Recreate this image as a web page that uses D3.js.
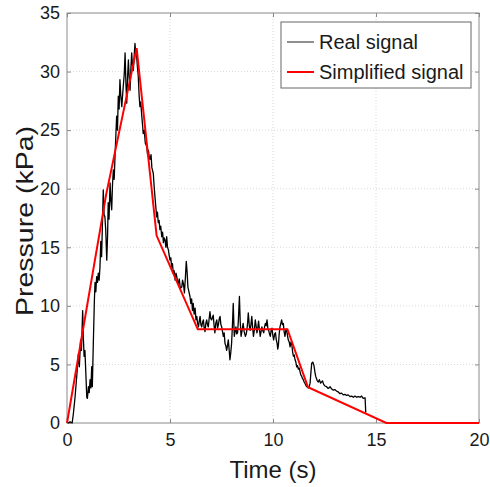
<!DOCTYPE html>
<html>
<head>
<meta charset="utf-8">
<script src="https://cdn.jsdelivr.net/npm/d3@7"></script>
<style>
  html, body { margin: 0; padding: 0; background: #fff; }
  svg { display: block; font-family: "Liberation Sans", Arial, Helvetica, sans-serif; }
</style>
</head>
<body>
<svg id="chart" width="490" height="487"></svg>
<script>
// Measured pressure trace (time in s, pressure in kPa)
const realTime = [
  0.05, 0.15, 0.25, 0.31, 0.39, 0.45, 0.50, 0.55, 0.60, 0.66, 0.70, 0.76, 0.80, 0.83, 0.87, 0.92, 0.96, 0.99,
  1.04, 1.08, 1.12, 1.16, 1.20, 1.23, 1.28, 1.33, 1.36, 1.40, 1.44, 1.48, 1.52, 1.56, 1.60, 1.64, 1.68, 1.72,
  1.76, 1.80, 1.84, 1.88, 1.93, 1.97, 2.00, 2.04, 2.09, 2.13, 2.17, 2.21, 2.25, 2.29, 2.33, 2.37, 2.41, 2.45,
  2.49, 2.53, 2.57, 2.61, 2.66, 2.70, 2.73, 2.78, 2.82, 2.86, 2.90, 2.94, 2.98, 3.02, 3.06, 3.10, 3.14, 3.18,
  3.22, 3.26, 3.30, 3.34, 3.38, 3.42, 3.46, 3.50, 3.54, 3.58, 3.63, 3.67, 3.70, 3.75, 3.80, 3.87, 3.92, 3.95,
  4.00, 4.03, 4.08, 4.12, 4.19, 4.23, 4.27, 4.31, 4.35, 4.39, 4.43, 4.47, 4.51, 4.55, 4.60, 4.64, 4.68, 4.72,
  4.76, 4.80, 4.84, 4.88, 4.92, 4.96, 5.00, 5.04, 5.08, 5.12, 5.16, 5.20, 5.25, 5.29, 5.33, 5.37, 5.40, 5.45,
  5.50, 5.57, 5.61, 5.65, 5.70, 5.75, 5.79, 5.83, 5.87, 5.92, 5.97, 6.01, 6.05, 6.09, 6.13, 6.17, 6.22, 6.26,
  6.30, 6.34, 6.38, 6.42, 6.46, 6.50, 6.54, 6.58, 6.62, 6.66, 6.70, 6.74, 6.78, 6.82, 6.86, 6.90, 6.94, 6.98,
  7.02, 7.06, 7.10, 7.14, 7.18, 7.22, 7.27, 7.31, 7.35, 7.39, 7.43, 7.47, 7.51, 7.55, 7.59, 7.63, 7.67, 7.71,
  7.75, 7.79, 7.83, 7.87, 7.91, 7.95, 7.99, 8.03, 8.07, 8.10, 8.12, 8.16, 8.20, 8.24, 8.28, 8.32, 8.37, 8.41,
  8.45, 8.50, 8.55, 8.60, 8.66, 8.70, 8.73, 8.77, 8.80, 8.85, 8.89, 8.93, 8.97, 9.01, 9.05, 9.10, 9.14, 9.18,
  9.22, 9.26, 9.30, 9.34, 9.38, 9.42, 9.46, 9.50, 9.55, 9.59, 9.63, 9.67, 9.71, 9.75, 9.79, 9.83, 9.87, 9.91,
  9.95, 9.99, 10.03, 10.08, 10.12, 10.16, 10.20, 10.23, 10.26, 10.30, 10.34, 10.38, 10.42, 10.46, 10.50, 10.54, 10.58, 10.62,
  10.66, 10.70, 10.74, 10.79, 10.83, 10.87, 10.91, 10.95, 10.99, 11.03, 11.07, 11.11, 11.15, 11.19, 11.23, 11.27, 11.31, 11.35,
  11.39, 11.43, 11.47, 11.51, 11.55, 11.60, 11.64, 11.68, 11.72, 11.76, 11.80, 11.84, 11.88, 11.93, 11.99, 12.03, 12.07, 12.11,
  12.15, 12.20, 12.25, 12.31, 12.36, 12.40, 12.46, 12.52, 12.60, 12.68, 12.72, 12.77, 12.85, 12.93, 13.00, 13.10, 13.17, 13.25,
  13.33, 13.41, 13.49, 13.57, 13.65, 13.74, 13.82, 13.90, 13.98, 14.06, 14.14, 14.23, 14.30, 14.38, 14.47, 14.50, 14.50
];
const realPressure = [
  0.0, 0.1, 0.0, 0.8, 2.2, 3.5, 4.6, 5.9, 4.8, 7.1, 6.2, 9.6, 7.0, 5.7, 6.2, 4.0, 2.2, 2.1,
  3.1, 2.6, 3.7, 3.0, 4.8, 3.1, 7.0, 10.5, 12.0, 11.2, 12.5, 12.0, 12.8, 12.2, 13.3, 15.5, 14.2, 17.0,
  19.9, 17.8, 17.6, 16.5, 13.9, 16.0, 18.8, 17.4, 20.5, 19.0, 18.2, 20.4, 21.6, 20.8, 22.7, 24.5, 26.2, 25.0,
  27.9, 26.8, 29.3, 28.0, 27.0, 28.0, 28.7, 29.8, 31.6, 29.0, 27.3, 29.5, 31.0, 29.5, 28.4, 30.2, 31.6, 30.5,
  30.1, 31.3, 32.4, 31.5, 31.3, 30.4, 29.6, 28.0, 27.0, 27.4, 26.2, 25.4, 24.7, 25.0, 23.9, 23.6, 22.8, 23.3,
  22.6, 22.5, 22.9, 21.8, 21.3, 20.2, 19.3, 18.5, 17.6, 18.0, 17.1, 17.3, 16.5, 16.8, 15.9, 16.3, 15.4, 15.8,
  15.6, 15.0, 15.9, 15.0, 14.8, 14.3, 13.9, 14.1, 13.3, 13.6, 12.8, 13.0, 12.2, 12.8, 12.5, 12.0, 11.9, 12.3,
  11.5, 11.6, 12.2, 11.9, 11.1, 12.5, 13.8, 12.9, 11.6, 11.2, 10.8, 10.2, 10.6, 9.6, 10.2, 9.3, 9.8, 8.8,
  9.1, 8.5, 8.2, 8.7, 9.1, 8.4, 8.2, 8.6, 8.8, 8.1, 7.8, 8.5, 8.8, 8.4, 8.2, 8.9, 9.5, 8.9,
  8.8, 9.0, 9.2, 8.3, 7.7, 8.5, 8.8, 8.1, 8.4, 8.9, 9.1, 8.4, 8.2, 7.8, 7.4, 7.7, 6.8, 6.6,
  6.2, 6.6, 7.1, 6.3, 5.4, 6.0, 6.8, 8.3, 10.2, 8.5, 7.4, 7.8, 8.2, 7.6, 7.7, 8.8, 10.8, 8.6,
  7.4, 7.9, 8.5, 7.8, 7.4, 7.6, 7.9, 8.6, 9.4, 8.3, 7.9, 8.4, 9.1, 8.2, 7.4, 8.0, 8.8, 8.3,
  7.7, 8.1, 8.7, 8.0, 7.4, 7.8, 8.2, 7.9, 7.7, 8.2, 8.5, 8.3, 8.8, 8.1, 7.9, 7.6, 7.4, 7.9,
  8.1, 7.5, 7.1, 7.6, 7.7, 7.1, 6.8, 6.3, 6.6, 7.6, 8.2, 8.5, 8.8, 8.4, 8.5, 7.8, 7.4, 7.9,
  8.0, 7.5, 7.1, 6.9, 6.5, 6.9, 6.8, 6.1, 5.7, 5.8, 5.4, 5.2, 4.8, 4.9, 4.6, 4.7, 4.4, 4.1,
  4.0, 3.8, 3.7, 3.5, 3.4, 3.2, 3.1, 3.05, 3.0, 3.1, 3.4, 4.3, 5.1, 5.2, 4.9, 4.4, 4.0, 3.8,
  3.6, 3.5, 3.7, 3.4, 3.5, 3.6, 3.3, 3.16, 3.1, 2.95, 3.0, 3.1, 2.9, 2.8, 2.85, 2.7, 2.65, 2.5,
  2.55, 2.4, 2.45, 2.35, 2.4, 2.25, 2.3, 2.2, 2.3, 2.2, 2.25, 2.2, 2.3, 2.1, 2.15, 1.0, 0.9
];

// Piecewise-linear simplification of the trace
const simpleTime = [0, 1.9, 3.38, 4.35, 6.35, 10.7, 11.7, 15.5, 20];
const simplePressure = [0, 19.5, 32, 16, 8, 8, 3.05, 0, 0];

// Axis ticks and labels
const xTicks = [0, 5, 10, 15, 20];
const yTicks = [0, 5, 10, 15, 20, 25, 30, 35];
const xTitle = "Time (s)";
const yTitle = "Pressure (kPa)";
const legendLabels = ["Real signal", "Simplified signal"];

const svg = d3.select("#chart");
const plotLeft = 67, plotRight = 479, plotTop = 13, plotBottom = 423;

const x = d3.scaleLinear().domain([0, 20]).range([plotLeft, plotRight]);
const y = d3.scaleLinear().domain([0, 35]).range([plotBottom, plotTop]);

const frameColor = "#8a8a8a";
const textColor = "#1a1a1a";

// Dotted grid
const grid = svg.append("g");
grid.selectAll("line.gx").data(xTicks.slice(1, -1)).join("line")
  .attr("x1", d => x(d)).attr("x2", d => x(d))
  .attr("y1", plotTop).attr("y2", plotBottom)
  .attr("stroke", "#d9d9d9").attr("stroke-width", 1).attr("stroke-dasharray", "1,2");
grid.selectAll("line.gy").data(yTicks.slice(1, -1)).join("line")
  .attr("x1", plotLeft).attr("x2", plotRight)
  .attr("y1", d => y(d)).attr("y2", d => y(d))
  .attr("stroke", "#d9d9d9").attr("stroke-width", 1).attr("stroke-dasharray", "1,2");

// Axes with inward ticks on all four sides
function styleAxis(g) {
  g.select(".domain").remove();
  g.selectAll(".tick line").attr("stroke", frameColor);
  g.selectAll(".tick text").attr("fill", textColor)
    .style("font-size", "18px")
    .style("font-family", '"Liberation Sans", Arial, sans-serif');
}
svg.append("g").attr("transform", `translate(0,${plotBottom})`)
  .call(d3.axisBottom(x).tickValues(xTicks).tickSize(-4).tickPadding(10).tickFormat(d3.format("d")))
  .call(styleAxis);
svg.append("g").attr("transform", `translate(${plotLeft},0)`)
  .call(d3.axisLeft(y).tickValues(yTicks).tickSize(-4).tickPadding(7).tickFormat(d3.format("d")))
  .call(styleAxis);
svg.append("g").attr("transform", `translate(0,${plotTop})`)
  .call(d3.axisTop(x).tickValues(xTicks).tickSize(-4).tickFormat(""))
  .call(styleAxis);
svg.append("g").attr("transform", `translate(${plotRight},0)`)
  .call(d3.axisRight(y).tickValues(yTicks).tickSize(-4).tickFormat(""))
  .call(styleAxis);

// Frame
svg.append("rect")
  .attr("x", plotLeft).attr("y", plotTop)
  .attr("width", plotRight - plotLeft).attr("height", plotBottom - plotTop)
  .attr("fill", "none").attr("stroke", frameColor).attr("stroke-width", 1);

// Series
const line = d3.line().x(d => x(d[0])).y(d => y(d[1]));
const realData = realTime.map((t, i) => [t, realPressure[i]]);
const simpleData = simpleTime.map((t, i) => [t, simplePressure[i]]);

svg.append("path").datum(realData)
  .attr("d", line).attr("fill", "none")
  .attr("stroke", "#000").attr("stroke-width", 1.3).attr("stroke-linejoin", "round");
svg.append("path").datum(simpleData)
  .attr("d", line).attr("fill", "none")
  .attr("stroke", "#ff0000").attr("stroke-width", 2);

// Axis titles
svg.append("text")
  .attr("x", (plotLeft + plotRight) / 2).attr("y", 478)
  .attr("text-anchor", "middle").attr("fill", textColor)
  .style("font-size", "24px").text(xTitle);
svg.append("text")
  .attr("transform", `translate(33,${(plotTop + plotBottom) / 2 + 3}) rotate(-90)`)
  .attr("text-anchor", "middle").attr("fill", textColor)
  .attr("textLength", 190).attr("lengthAdjust", "spacingAndGlyphs")
  .style("font-size", "24px").text(yTitle);

// Legend
const legend = svg.append("g");
legend.append("rect")
  .attr("x", 281).attr("y", 22).attr("width", 190).attr("height", 66)
  .attr("fill", "#fff").attr("stroke", "#666").attr("stroke-width", 1);
const legendStyles = [
  { color: "#444", width: 1.2 },
  { color: "#ff0000", width: 2 }
];
legendLabels.forEach((label, i) => {
  const cy = 42 + i * 30;
  legend.append("line")
    .attr("x1", 287).attr("x2", 314).attr("y1", cy).attr("y2", cy)
    .attr("stroke", legendStyles[i].color).attr("stroke-width", legendStyles[i].width);
  legend.append("text")
    .attr("x", 319).attr("y", cy + 7)
    .attr("fill", textColor).style("font-size", "20px").text(label);
});
</script>
</body>
</html>
